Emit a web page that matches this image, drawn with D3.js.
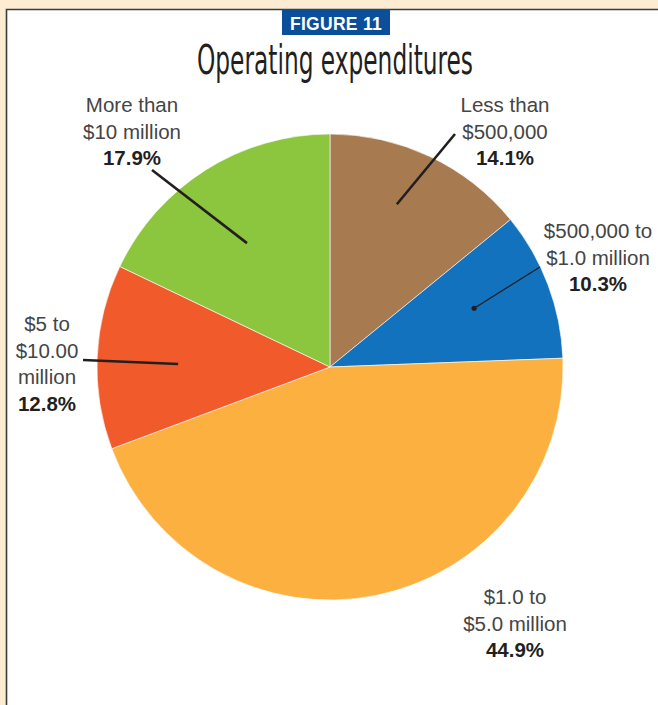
<!DOCTYPE html>
<html>
<head>
<meta charset="utf-8">
<script src="https://cdn.jsdelivr.net/npm/d3@7"></script>
<style>
  html, body { margin: 0; padding: 0; background: #fdebd2; }
  svg { display: block; }
</style>
</head>
<body>
<svg id="chart" width="658" height="705"></svg>
<script>
// Operating expenditures, share of organisations by budget band
const categories = [
  "Less than $500,000",
  "$500,000 to $1.0 million",
  "$1.0 to $5.0 million",
  "$5 to $10.00 million",
  "More than $10 million"
];
const shares = [14.1, 10.3, 44.9, 12.8, 17.9];
const colors = ["#a77b4f", "#1272bd", "#fbb040", "#f15a2b", "#8cc63f"];
// label lines as printed for each slice (last line is the bold share)
const labelLines = [
  ["Less than", "$500,000"],
  ["$500,000 to", "$1.0 million"],
  ["$1.0 to", "$5.0 million"],
  ["$5 to", "$10.00", "million"],
  ["More than", "$10 million"]
];

// label layout: text centre, first baseline, leader start,
// leader end as (fraction across slice, fraction of radius)
const labelLayout = [
  { x: 505, y: 112, from: [455, 134], along: 0.44, depth: 0.755, dot: false, w: 2.6 },
  { x: 598, y: 238, from: [540, 267], along: 0.46, depth: 0.668, dot: true,  w: 1.4 },
  { x: 515, y: 604, from: null,       along: 0,    depth: 0,     dot: false, w: 0 },
  { x: 47,  y: 331, from: [83, 360],  along: 0.47, depth: 0.652, dot: false, w: 2.6 },
  { x: 132, y: 112, from: [152, 170], along: 0.475, depth: 0.64, dot: false, w: 2.6 }
];

const svg = d3.select("#chart");
const W = 658, H = 705;

// white panel with dark rule on top and left
svg.append("rect").attr("x", 6).attr("y", 9).attr("width", W).attr("height", H)
  .attr("fill", "#ffffff");
svg.append("path").attr("d", `M6.5,${H} V9.5 H${W}`)
  .attr("fill", "none").attr("stroke", "#3b3b3b").attr("stroke-width", 1.6);

// figure tag
svg.append("rect").attr("x", 282).attr("y", 9).attr("width", 108).attr("height", 26)
  .attr("fill", "#0b4f9b");
svg.append("text").attr("x", 336).attr("y", 29.5)
  .attr("text-anchor", "middle")
  .attr("font-family", "'Liberation Sans', Arial, sans-serif")
  .attr("font-weight", "bold").attr("font-size", 17.5)
  .attr("letter-spacing", 0.3)
  .attr("fill", "#ffffff").text("FIGURE 11");

// title
svg.append("text").attr("x", 335).attr("y", 74)
  .attr("text-anchor", "middle")
  .attr("font-family", "'Liberation Sans Narrow', 'DejaVu Sans Condensed', sans-serif")
  .attr("font-size", 40)
  .attr("textLength", 276).attr("lengthAdjust", "spacingAndGlyphs")
  .attr("fill", "#231f20").text("Operating expenditures");

// pie
const cx = 330, cy = 367, R = 233;
const pie = d3.pie().sort(null).value(d => d)
  .startAngle(0).endAngle(2 * Math.PI);
const arcs = pie(shares);
const arc = d3.arc().innerRadius(0).outerRadius(R);

const g = svg.append("g").attr("transform", `translate(${cx},${cy})`);
g.selectAll("path.slice").data(arcs).join("path")
  .attr("class", "slice")
  .attr("d", arc)
  .attr("fill", (d, i) => colors[i])
  .attr("stroke", "#ffffff").attr("stroke-width", 0.6);

// leader lines from label to slice interior
arcs.forEach((a, i) => {
  const L = labelLayout[i];
  if (!L.from) return;
  const ang = a.startAngle + (a.endAngle - a.startAngle) * L.along;
  const r = R * L.depth;
  const tx = cx + r * Math.sin(ang), ty = cy - r * Math.cos(ang);
  svg.append("line")
    .attr("x1", L.from[0]).attr("y1", L.from[1])
    .attr("x2", tx).attr("y2", ty)
    .attr("stroke", "#231f20").attr("stroke-width", L.w);
  if (L.dot) {
    svg.append("circle").attr("cx", tx).attr("cy", ty).attr("r", 2.6)
      .attr("fill", "#231f20");
  }
});

// labels
const fmt = d3.format(".1f");
labelLayout.forEach((L, i) => {
  const t = svg.append("text")
    .attr("text-anchor", "middle")
    .attr("font-family", "'Liberation Sans', Arial, sans-serif")
    .attr("font-size", 20.5)
    .attr("fill", "#454545");
  const lines = labelLines[i];
  lines.forEach((s, k) => {
    t.append("tspan").attr("x", L.x).attr("y", L.y + k * 26.5).text(s);
  });
  t.append("tspan").attr("x", L.x).attr("y", L.y + lines.length * 26.5)
    .attr("font-weight", "bold").attr("fill", "#231f20")
    .text(fmt(shares[i]) + "%");
});
</script>
</body>
</html>
